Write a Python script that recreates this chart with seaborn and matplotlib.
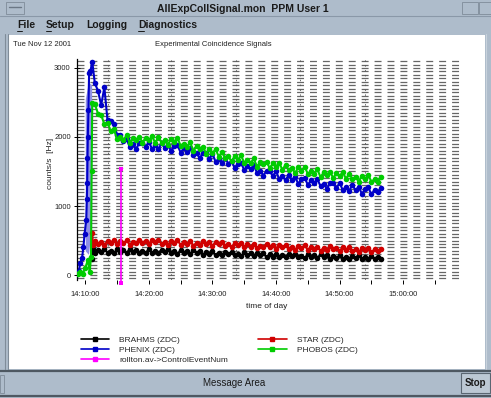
import matplotlib
matplotlib.use("Agg")
import matplotlib.pyplot as plt
import seaborn as sns
from matplotlib.patches import Rectangle
from matplotlib.lines import Line2D
from matplotlib.ticker import MultipleLocator

sns.set_style("white")
plt.rcParams["font.family"] = ["Liberation Sans", "DejaVu Sans"]
plt.rcParams["lines.scale_dashes"] = False

# ---------------- data (minutes after 14:00, counts/s) ----------------
t_main = [11.5, 12.0, 12.5, 13.0, 13.5, 14.0, 14.5, 15.0, 15.5, 16.0, 16.5, 17.0, 17.5, 18.0,
          18.5, 19.0, 19.5, 20.0, 20.5, 21.0, 21.5, 22.0, 22.5, 23.0, 23.5, 24.0, 24.5, 25.0,
          25.5, 26.0, 26.5, 27.0, 27.5, 28.0, 28.5, 29.0, 29.5, 30.0, 30.5, 31.0, 31.5, 32.0,
          32.5, 33.0, 33.5, 34.0, 34.5, 35.0, 35.5, 36.0, 36.5, 37.0, 37.5, 38.0, 38.5, 39.0,
          39.5, 40.0, 40.5, 41.0, 41.5, 42.0, 42.5, 43.0, 43.5, 44.0, 44.5, 45.0, 45.5, 46.0,
          46.5, 47.0, 47.5, 48.0, 48.5, 49.0, 49.5, 50.0, 50.5, 51.0, 51.5, 52.0, 52.5, 53.0,
          53.5, 54.0, 54.5, 55.0, 55.5, 56.0, 56.5]

brahms_t_early = [11.1, 11.2]
brahms_v_early = [230, 380]
brahms_v = [320, 365, 335, 375, 325, 350, 315, 370, 330, 360, 320, 375, 340, 365, 315, 355,
            325, 370, 315, 350, 320, 365, 333, 372, 320, 343, 307, 360, 318, 347, 305, 358,
            322, 345, 293, 332, 300, 343, 287, 320, 288, 332, 300, 338, 287, 310, 273, 327,
            285, 313, 272, 325, 288, 312, 260, 298, 267, 310, 254, 288, 257, 301, 270, 309,
            258, 282, 246, 300, 259, 287, 246, 300, 264, 288, 237, 276, 245, 289, 233, 267,
            236, 280, 249, 288, 237, 261, 225, 279, 238, 267, 226]

star_t_early = [11.1, 11.2]
star_v_early = [610, 440]
star_v = [500, 446, 481, 437, 492, 468, 509, 444, 490, 460, 501, 442, 482, 458, 513, 469,
          499, 450, 509, 473, 506, 450, 484, 437, 491, 465, 504, 437, 481, 450, 489, 427,
          466, 440, 493, 446, 474, 422, 480, 443, 476, 419, 452, 405, 458, 431, 469, 402,
          445, 413, 451, 389, 427, 400, 453, 406, 434, 383, 441, 404, 437, 380, 413, 366,
          419, 393, 431, 364, 407, 375, 413, 352, 390, 363, 416, 370, 398, 346, 405, 368,
          401, 345, 378, 331, 385, 358, 396, 330, 373, 341, 380]

phenix_t_early = [8.7, 9.0, 9.2, 9.5, 9.7, 9.9, 10.15, 10.25, 10.3, 10.35, 10.4, 10.5, 10.6,
                  10.8, 11.1]
phenix_v_early = [20, 60, 170, 250, 400, 600, 800, 1100, 1330, 1700, 2000, 2390, 2920, 2950, 3090]
phenix_v = [2780, 2670, 2460, 2720, 2240, 2235, 2195, 2030, 2035, 1940, 1965, 1855, 1892,
            1829, 1911, 1919, 1851, 1933, 1825, 1877, 1824, 1911, 1839, 1891, 1793, 1865,
            1882, 1774, 1837, 1789, 1841, 1738, 1766, 1693, 1765, 1762, 1685, 1757, 1639,
            1681, 1619, 1696, 1613, 1655, 1548, 1610, 1628, 1520, 1583, 1535, 1588, 1485,
            1513, 1440, 1513, 1510, 1433, 1505, 1388, 1430, 1372, 1454, 1376, 1423, 1320,
            1387, 1409, 1306, 1373, 1330, 1387, 1289, 1321, 1253, 1330, 1330, 1259, 1338,
            1227, 1276, 1220, 1304, 1228, 1277, 1176, 1245, 1269, 1168, 1237, 1196, 1255]

phobos_t_early = [8.4, 8.8, 9.2, 9.6, 10.0, 10.4, 10.7, 10.9, 11.0, 11.1]
phobos_v_early = [30, 10, 50, 20, 100, 220, 40, 260, 1500, 2490]
phobos_v = [2475, 2340, 2320, 2185, 2205, 2085, 2110, 1970, 1995, 1955, 2025, 1913, 1990,
            1958, 2005, 1917, 1990, 1953, 2010, 1918, 1995, 1918, 1956, 1889, 1977, 1925,
            1986, 1873, 1904, 1861, 1922, 1799, 1865, 1822, 1858, 1760, 1821, 1773, 1819,
            1716, 1782, 1694, 1720, 1645, 1726, 1667, 1734, 1625, 1661, 1622, 1689, 1570,
            1641, 1602, 1644, 1550, 1616, 1572, 1624, 1525, 1598, 1516, 1549, 1477, 1560,
            1503, 1571, 1464, 1502, 1465, 1533, 1416, 1489, 1452, 1495, 1405, 1475, 1435,
            1490, 1395, 1470, 1390, 1425, 1355, 1440, 1385, 1455, 1350, 1390, 1355, 1425]

# dense PHENIX rise region (drawn as a light band)
rise_t = [10.0, 10.5, 11.0]
rise_lo = [350, 300, 700]
rise_hi = [2550, 2800, 2750]

ctrl_t = [15.6, 15.6]
ctrl_v = [-110, 1540]

xtick_minutes = [10, 20, 30, 40, 50, 60]
xtick_labels = ["14:10:00", "14:20:00", "14:30:00", "14:40:00", "14:50:00", "15:00:00"]
ytick_values = [0, 1000, 2000, 3000]
vgrid_minutes = [13.5, 23.5, 33.7, 43.8, 54.0]

series_names = ["BRAHMS (ZDC)", "PHENIX (ZDC)", "rollton.av->ControlEventNum",
                "STAR (ZDC)", "PHOBOS (ZDC)"]
series_colors = ["#000000", "#0000c8", "#ff00ff", "#d00000", "#00cc00"]

# ---------------- figure / window chrome ----------------
W, H = 491, 398
WIN = "#aebccb"


def fx(x):
    return x / W


def fy(y):
    return 1 - y / H


fig = plt.figure(figsize=(W / 100, H / 100), dpi=100)
fig.patch.set_facecolor(WIN)


def rect(x0, y0, x1, y1, fc, ec="none", lw=0.0, z=-1):
    fig.add_artist(Rectangle((fx(x0), fy(y1)), fx(x1) - fx(x0), fy(y0) - fy(y1),
                             transform=fig.transFigure, facecolor=fc, edgecolor=ec,
                             linewidth=lw, zorder=z))


def hline(x0, x1, y, c, lw=1.0):
    fig.add_artist(Line2D([fx(x0), fx(x1)], [fy(y), fy(y)], transform=fig.transFigure,
                          color=c, lw=lw, zorder=5))


def vline(x, y0, y1, c, lw=1.0):
    fig.add_artist(Line2D([fx(x), fx(x)], [fy(y0), fy(y1)], transform=fig.transFigure,
                          color=c, lw=lw, zorder=5))


# white client area
rect(8, 35, 485, 369, "white")
# title bar
hline(0, 491, 15.5, "#8a98a8", 0.8)
rect(6, 2, 24, 14, WIN, "#7f8c99", 0.6)
hline(9, 21, 7, "#6b7785", 1.0)
rect(462, 2, 478, 14, WIN, "#7f8c99", 0.6)
rect(479, 2, 491, 14, WIN, "#7f8c99", 0.6)
fig.text(fx(243), fy(9), "AllExpCollSignal.mon  PPM User 1", ha="center", va="center",
         fontsize=7.5, fontweight="bold", color="#1a1a1a")
# menu bar
menu = [("File", 17), ("Setup", 46), ("Logging", 86), ("Diagnostics", 138)]
for name, x in menu:
    fig.text(fx(x), fy(25), name, ha="left", va="center", fontsize=7.5,
             fontweight="bold", color="#1a1a1a")
hline(17, 22, 31, "#1a1a1a", 0.7)
hline(46, 51, 31, "#1a1a1a", 0.7)
hline(138, 144, 31, "#1a1a1a", 0.7)
# left / right borders
vline(5, 34, 369, "#7f8c99", 0.8)
vline(7.5, 34, 369, "#7f8c99", 0.8)
vline(485.5, 34, 369, "#c8d2dc", 0.8)
# bottom message area
hline(0, 491, 370.5, "#4e5862", 1.6)
hline(0, 491, 395.5, "#4e5862", 1.6)
rect(0, 375, 4, 393, WIN, "#7f8c99", 0.6)
fig.text(fx(234), fy(383), "Message Area", ha="center", va="center", fontsize=7,
         color="#1a1a1a")
rect(461, 373, 490, 393, "#bcc8d4", "#5a6672", 0.8)
fig.text(fx(475.5), fy(383), "Stop", ha="center", va="center", fontsize=7,
         fontweight="bold", color="#1a1a1a")

# header texts
fig.text(fx(13), fy(44), "Tue Nov 12 2001", ha="left", va="center", fontsize=5.5,
         color="#222222")
fig.text(fx(155), fy(44), "Experimental Coincidence Signals", ha="left", va="center",
         fontsize=5.5, color="#222222")

# ---------------- the plot ----------------
ax = fig.add_axes([fx(77), fy(280.2), fx(463) - fx(77), fy(59) - fy(280.2)])
ax.patch.set_alpha(0)

ax.fill_between(rise_t, rise_lo, rise_hi, color="#8f8fe8", linewidth=0, zorder=1.5)

plot_sets = [
    (brahms_t_early + t_main, brahms_v_early + brahms_v, series_colors[0]),
    (star_t_early + t_main, star_v_early + star_v, series_colors[3]),
    (phenix_t_early + t_main, phenix_v_early + phenix_v, series_colors[1]),
    (phobos_t_early + t_main, phobos_v_early + phobos_v, series_colors[4]),
]
for tt, vv, col in plot_sets:
    sns.lineplot(x=tt, y=vv, ax=ax, color=col, marker="o", markersize=4.0,
                 markeredgewidth=0, linewidth=1.5, estimator=None, sort=False,
                 legend=False, zorder=3)

sns.lineplot(x=ctrl_t, y=ctrl_v, ax=ax, color=series_colors[2], marker="s", markersize=3,
             markeredgewidth=0, linewidth=1.2, estimator=None, sort=False, legend=False,
             clip_on=False, zorder=4)

ax.set_xlim(8.7, 69.4)
ax.set_ylim(-75, 3130)

# grid
ax.yaxis.set_minor_locator(MultipleLocator(50))
ax.grid(False)
ax.grid(which="both", axis="y", color="#666666", lw=0.9, linestyle=(0, (5, 4.3)))
ax.set_axisbelow(True)
for tv in vgrid_minutes:
    ax.axvline(tv, color="#555555", lw=0.6, linestyle=(0, (1, 2.5)), zorder=1)

# ticks
ax.set_xticks(xtick_minutes)
ax.set_xticklabels(xtick_labels)
ax.xaxis.set_minor_locator(MultipleLocator(5))
ax.set_yticks(ytick_values)
ax.set_yticklabels([str(v) for v in ytick_values])
ax.tick_params(axis="x", which="both", bottom=True, direction="out", length=3, width=0.7,
               color="black", labelsize=5.5, pad=5, labelcolor="#222222")
ax.tick_params(axis="y", which="major", left=True, direction="inout", length=5, width=0.7,
               color="black", labelsize=5.5, pad=2, labelcolor="#222222")
ax.tick_params(axis="y", which="minor", left=False)
sns.despine(ax=ax, top=True, right=True, bottom=True, left=False)
ax.spines["left"].set_color("black")
ax.spines["left"].set_linewidth(0.9)

fig.text(fx(267), fy(306), "time of day", ha="center", va="center", fontsize=6,
         color="#222222")
fig.text(fx(50), fy(163), "counts/s  [Hz]", ha="center", va="center", fontsize=6,
         rotation=90, color="#222222")

# legend
handles = [Line2D([], [], color=c, marker="s", markersize=3, lw=1.2) for c in series_colors]
leg = ax.legend(handles, series_names, ncol=2, loc="upper left",
                bbox_to_anchor=(fx(81), fy(336)), bbox_transform=fig.transFigure,
                frameon=False, fontsize=6, handlelength=3.4, handletextpad=1.2,
                labelspacing=0.25, columnspacing=3.6, borderaxespad=0, borderpad=0)

fig.savefig("out.png", dpi=100, facecolor=fig.get_facecolor())
